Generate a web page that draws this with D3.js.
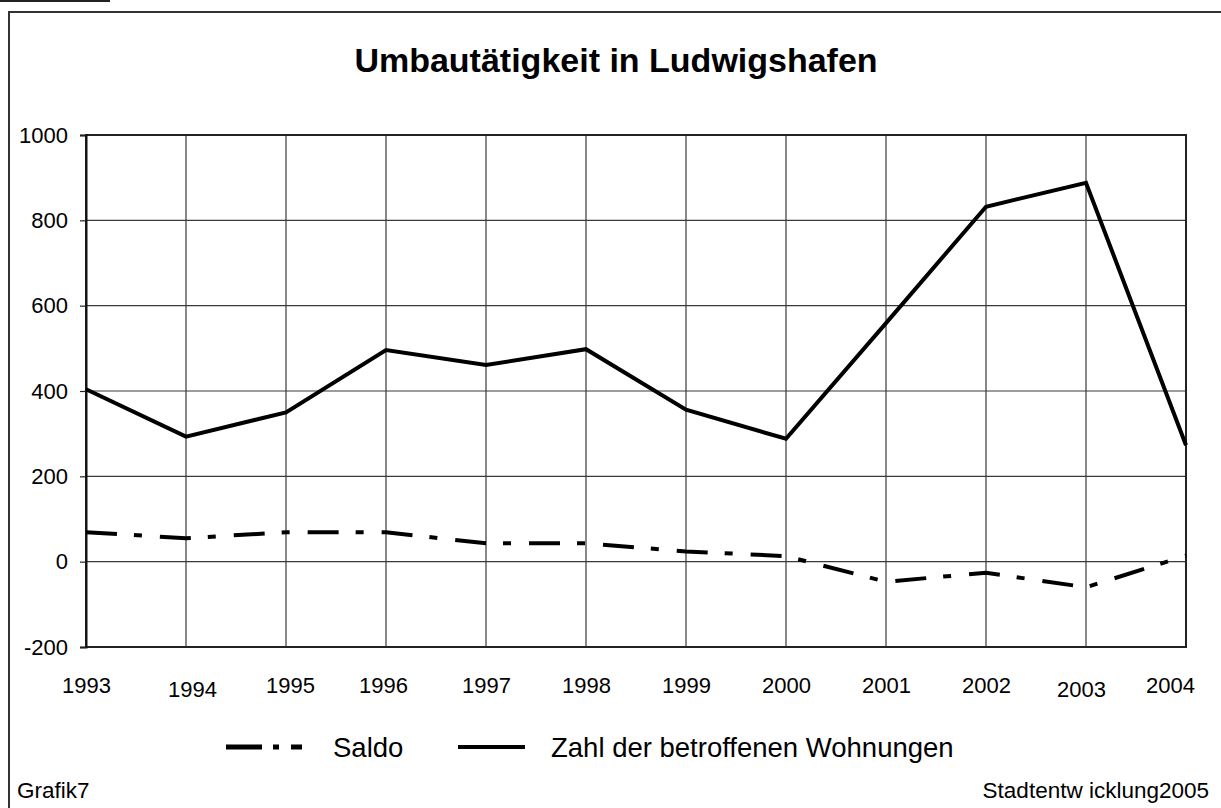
<!DOCTYPE html>
<html>
<head>
<meta charset="utf-8">
<script src="https://cdn.jsdelivr.net/npm/d3@7/dist/d3.min.js"></script>
<style>
  html, body { margin: 0; padding: 0; background: #fff; }
  svg { display: block; }
  text { font-family: "Liberation Sans", Arial, sans-serif; fill: #000; }
</style>
</head>
<body>
<svg id="chart" width="1221" height="808"></svg>
<script>
// ---- data ----
const years = [1993, 1994, 1995, 1996, 1997, 1998, 1999, 2000, 2001, 2002, 2003, 2004];
const zahlWohnungen = [404, 293, 350, 496, 461, 498, 356, 288, 559, 832, 888, 273];
const saldo = [69, 55, 69, 69, 43, 43, 24, 13, -47, -26, -60, 14];
const yTicks = [-200, 0, 200, 400, 600, 800, 1000];
const yTickLabels = ["-200", "0", "200", "400", "600", "800", "1000"];
const seriesNames = ["Saldo", "Zahl der betroffenen Wohnungen"];
const titleText = "Umbautätigkeit in Ludwigshafen";
const footLeft = "Grafik7";
const footRight = "Stadtentw icklung2005";

// ---- layout ----
const svg = d3.select("#chart");
const W = 1221, H = 808;
const plot = { left: 86, right: 1186, top: 135, bottom: 647 };

const x = d3.scalePoint().domain(years).range([plot.left, plot.right]);
const y = d3.scaleLinear().domain([-200, 1000]).range([plot.bottom, plot.top]);

// small line at the very top-left
svg.append("line").attr("x1", 0).attr("x2", 110).attr("y1", 1).attr("y2", 1)
  .attr("stroke", "#222").attr("stroke-width", 2);

// outer frame (extends off canvas to the right and bottom)
svg.append("rect").attr("x", 9).attr("y", 12).attr("width", W + 20).attr("height", H + 20)
  .attr("fill", "none").attr("stroke", "#333").attr("stroke-width", 2);

// title
svg.append("text").attr("x", 616).attr("y", 72).attr("text-anchor", "middle")
  .style("font-size", "34px").style("font-weight", "bold").text(titleText);

// gridlines horizontal
svg.append("g").selectAll("line").data(yTicks).join("line")
  .attr("x1", plot.left).attr("x2", plot.right)
  .attr("y1", d => y(d)).attr("y2", d => y(d))
  .attr("stroke", "#3a3a3a").attr("stroke-width", 1.2);

// gridlines vertical
svg.append("g").selectAll("line").data(years).join("line")
  .attr("x1", d => x(d)).attr("x2", d => x(d))
  .attr("y1", plot.top).attr("y2", plot.bottom)
  .attr("stroke", "#3a3a3a").attr("stroke-width", 1.2);

// plot border
svg.append("rect").attr("x", plot.left).attr("y", plot.top)
  .attr("width", plot.right - plot.left).attr("height", plot.bottom - plot.top)
  .attr("fill", "none").attr("stroke", "#222").attr("stroke-width", 2);

// y axis with D3 axis
const yAxis = d3.axisLeft(y).tickValues(yTicks)
  .tickFormat((d, i) => yTickLabels[i]).tickSize(6).tickPadding(12);
const gy = svg.append("g").attr("transform", `translate(${plot.left},0)`).call(yAxis);
gy.select(".domain").attr("stroke", "#111").attr("stroke-width", 2);
gy.selectAll(".tick line").attr("stroke", "#222").attr("stroke-width", 1.2);
gy.selectAll(".tick text").style("font-size", "22px").attr("fill", "#000")
  .style("font-family", '"Liberation Sans", Arial, sans-serif');

// x axis labels (no ticks)
const labelDy = { 1994: 4, 2003: 4 };
const labelDx = { 1994: 6, 1995: 4, 1996: -3, 2003: -5, 2004: -16 };
const xAxis = d3.axisBottom(x).tickSize(0).tickPadding(0).tickFormat(d => String(d));
const gx = svg.append("g").attr("transform", `translate(0,${plot.bottom})`).call(xAxis);
gx.select(".domain").remove();
gx.selectAll(".tick text")
  .style("font-size", "22px").attr("fill", "#000")
  .style("font-family", '"Liberation Sans", Arial, sans-serif')
  .attr("dy", null)
  .attr("y", d => 46 + (labelDy[d] || 0))
  .attr("x", d => (labelDx[d] || 0));

// lines
const lineGen = d3.line().x(d => x(d.year)).y(d => y(d.value));
const zahlData = years.map((yr, i) => ({ year: yr, value: zahlWohnungen[i] }));
const saldoData = years.map((yr, i) => ({ year: yr, value: saldo[i] }));

svg.append("path").datum(saldoData).attr("d", lineGen)
  .attr("fill", "none").attr("stroke", "#000").attr("stroke-width", 4)
  .attr("stroke-dasharray", "31 17 8 18").attr("stroke-linejoin", "miter");

svg.append("path").datum(zahlData).attr("d", lineGen)
  .attr("fill", "none").attr("stroke", "#000").attr("stroke-width", 4)
  .attr("stroke-linejoin", "miter");

// legend
const legY = 747;
svg.append("line").attr("x1", 226).attr("x2", 302).attr("y1", legY).attr("y2", legY)
  .attr("stroke", "#000").attr("stroke-width", 5).attr("stroke-dasharray", "36 11 6 12 11");
svg.append("text").attr("x", 333).attr("y", 757).style("font-size", "27.5px").text(seriesNames[0]);
svg.append("line").attr("x1", 458).attr("x2", 525).attr("y1", legY).attr("y2", legY)
  .attr("stroke", "#000").attr("stroke-width", 4);
svg.append("text").attr("x", 551).attr("y", 757).style("font-size", "27.5px").text(seriesNames[1]);

// footer
svg.append("text").attr("x", 17).attr("y", 798).style("font-size", "22.5px").text(footLeft);
svg.append("text").attr("x", 1209).attr("y", 798).attr("text-anchor", "end")
  .style("font-size", "22.5px").text(footRight);
</script>
</body>
</html>
